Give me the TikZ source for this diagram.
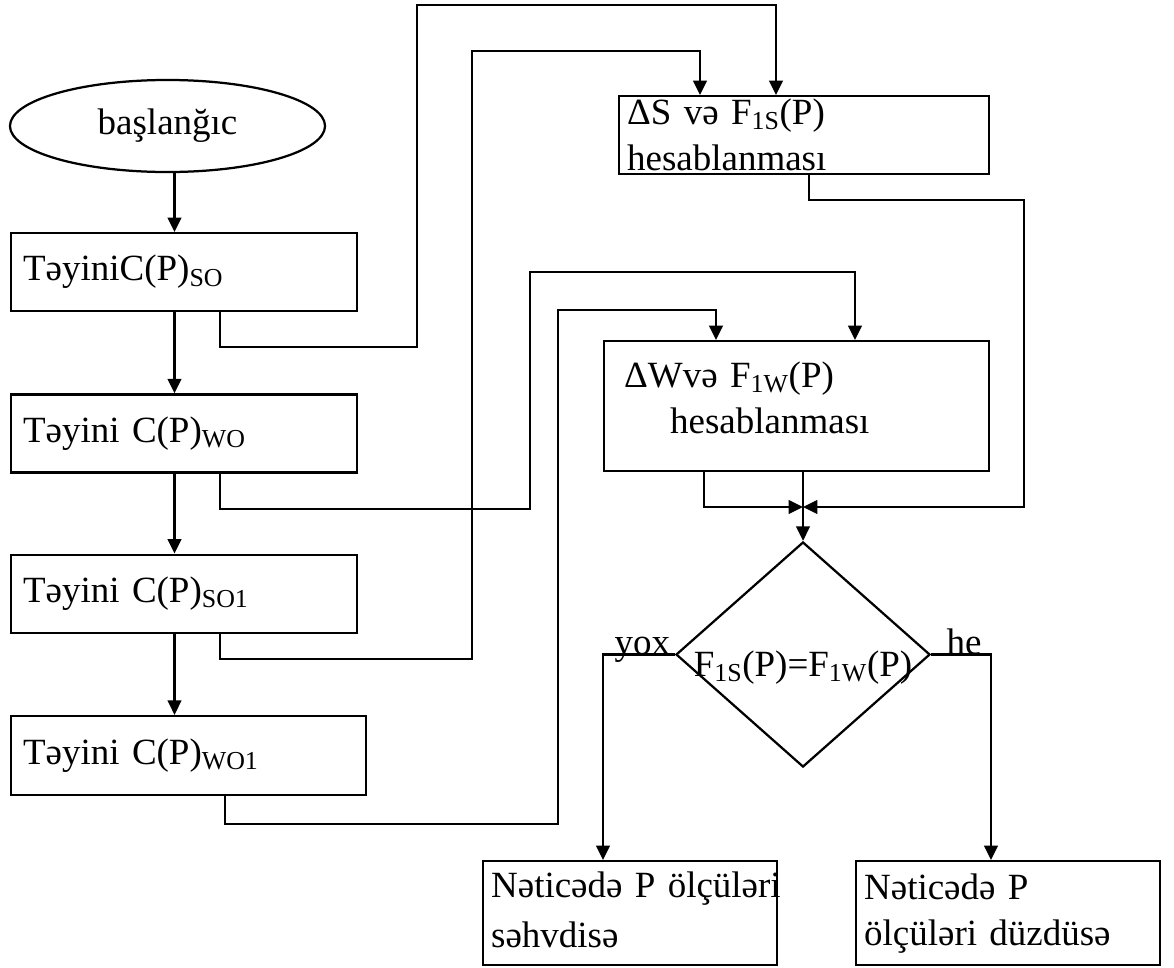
\documentclass[tikz,border=0pt]{standalone}
\usepackage{fontspec}
\setmainfont{Liberation Serif}
\usetikzlibrary{arrows.meta, positioning, shapes.geometric}

\begin{document}
\begin{tikzpicture}[
				x=0.025cm, y=-0.025cm,
				font=\fontsize{26.3}{33}\selectfont,
				% Styles des blocs
				blok/.style={draw=black, line width=1.6pt, rectangle, anchor=north west, align=left, inner xsep=0.3cm, inner ysep=0pt},
				oval/.style={draw=black, line width=1.6pt, ellipse, minimum width=7.875cm, minimum height=2.3cm, inner sep=0pt},
				romb/.style={draw=black, line width=1.6pt, diamond, minimum width=6.35cm, minimum height=5.625cm, inner sep=0pt},
				% Styles des liaisons
				ox/.style={-{Triangle[length=0.36cm, width=0.34cm]}, line width=1.6pt},
				etiket/.style={inner sep=0pt, anchor=base},
				]
				
				\useasboundingbox (0,0) rectangle (1174,967);
				
				% Colonne de gauche
				\node[oval] (basla) at (167.5,126) {başlanğıc};
				\node[blok, text width=8.04cm, minimum height=1.95cm] (b1) at (10,232) {TəyiniC(P)\textsubscript{SO}};
				\node[blok, text width=8.04cm, minimum height=1.95cm, below=2.025cm of b1] (b2) {Təyini C(P)\textsubscript{WO}};
				\node[blok, text width=8.04cm, minimum height=1.95cm, below=2cm of b2] (b3) {Təyini C(P)\textsubscript{SO1}};
				\node[blok, text width=8.275cm, minimum height=1.975cm, below=2.025cm of b3.south west, anchor=north west] (b4) {Təyini C(P)\textsubscript{WO1}};
				
				\draw[ox] (basla.south -| 174.5,0) -- (b1.north -| 174.5,0);
				\draw[ox] (b1.south -| 174.5,0) -- (b2.north -| 174.5,0);
				\draw[ox] (b2.south -| 174.5,0) -- (b3.north -| 174.5,0);
				\draw[ox] (b3.south -| 174.5,0) -- (b4.north -| 174.5,0);
				
				% Blocs de calcul
				\node[blok, text width=8.85cm, inner xsep=0.2cm, minimum height=1.95cm] (hs) at (618,95) {ΔS və F\textsubscript{1S}(P)\\hesablanması};
				\node[blok, text width=8.625cm, inner xsep=0.5cm, minimum height=3.25cm, text depth=1.575cm] (hw) at (603,340) {ΔWvə F\textsubscript{1W}(P)\\\hspace*{1.15cm}hesablanması};
				
				\draw[ox] (b1.south -| 220,0) |- (417,347) |- (776,5) -- (hs.north -| 776,0);
				\draw[ox] (b3.south -| 220,0) |- (472,659) |- (700,51) -- (hs.north -| 700,0);
				\draw[ox] (b2.south -| 220,0) |- (530,509) |- (855,272) -- (hw.north -| 855,0);
				\draw[ox] (b4.south -| 225,0) |- (558,824) |- (716,310) -- (hw.north -| 716,0);
				
				% Condition
				\node[romb] (yox) at (803,654.5) {\makebox[0pt]{\raisebox{-0.54cm}[0pt][0pt]{F\textsubscript{1S}(P)=F\textsubscript{1W}(P)}}};
				
				\draw[ox] (hs.south -| 809,0) |- (1024,200) |- (yox.north |- 0,507);
				\draw[ox] (hw.south -| 704,0) |- (yox.north |- 0,507);
				\draw[ox] (hw.south -| yox.north) -- (yox.north);
				
				% Resultats
				\node[blok, text width=6.95cm, inner xsep=0.2cm, minimum height=2.6cm, text depth=1.425cm] (n1) at (482,860) {\mbox{Nəticədə P ölçüləri}\\[0.09cm]səhvdisə};
				\node[blok, text width=7.2cm, inner xsep=0.2cm, minimum height=2.6cm, text depth=1.325cm] (n2) at (855,860) {Nəticədə P\\ölçüləri düzdüsə};
				
				\draw[ox] (yox.west) -| node[etiket, pos=0.226] {yox} (n1.north -| 603,0);
				\draw[ox] (yox.east) -| node[etiket, pos=0.275] {he} (n2.north -| 991,0);
				
			\end{tikzpicture}
\end{document}
